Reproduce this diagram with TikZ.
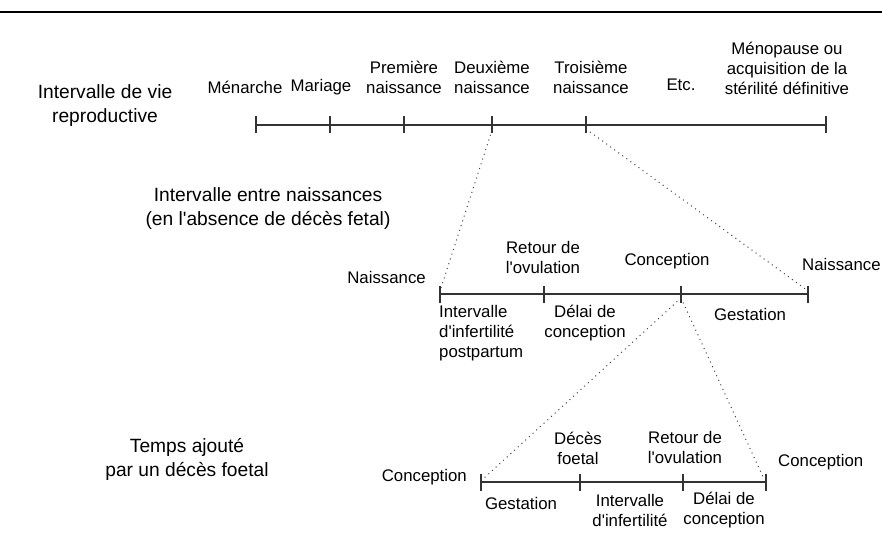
\documentclass[tikz,border=0pt]{standalone}
\usepackage{fontspec}
\setmainfont{Liberation Sans}
\begin{document}
\begin{tikzpicture}
    [x=1pt, y=-1pt,
    lbl/.style={font=\fontsize{16.8}{20}\selectfont, align=center, inner sep=0pt},
    ttl/.style={font=\fontsize{19.2}{24}\selectfont, align=center, inner sep=0pt},
    timeline/.style={line width=1.3pt, draw=black!80},
    tickmark/.style={line width=1.3pt, draw=black!80},
    zoomline/.style={dash pattern=on 1pt off 4pt, line width=1pt, draw=black!75}]
    \useasboundingbox (0,0) rectangle (882,556);
    \draw[line width=2.5pt] (0,12) -- (882,12);
    % vie reproductive
    \node[ttl] (vie) at (105,106) {Intervalle de vie\\reproductive};
    \foreach \n/\x in {a/256, b/330, c/404, d/492, e/586, f/826}
      \coordinate (v\n) at (\x,125);
    \draw[timeline] (va) -- (vf);
    \foreach \n in {a,...,f}
      \draw[tickmark] ([yshift=-8.5pt]v\n) -- ([yshift=8.5pt]v\n);
    \node[lbl] (menarche) at (245,87) {Ménarche};
    \node[lbl] (mariage) at (321,87) {Mariage};
    \node[lbl] (premiere) at (404,77.5) {Première\\naissance};
    \node[lbl] (deuxieme) at (492,77.5) {Deuxième\\naissance};
    \node[lbl] (troisieme) at (591,77.5) {Troisième\\naissance};
    \node[lbl] (etc) at (681,85) {Etc.};
    \node[lbl] (menopause) at (787,68) {Ménopause ou\\acquisition de la\\stérilité définitive};
    % intervalle entre naissances
    \node[ttl] (naiss) at (268,209) {Intervalle entre naissances\\(en l\textquotesingle absence de décès fetal)};
    \foreach \n/\x in {a/440, b/544, c/681, d/808}
      \coordinate (n\n) at (\x,294);
    \draw[timeline] (na) -- (nd);
    \foreach \n in {a,...,d}
      \draw[tickmark] ([yshift=-8.5pt]n\n) -- ([yshift=8.5pt]n\n);
    \node[lbl, anchor=east] (naissg) at (426,277) {Naissance};
    \node[lbl] (retour1) at (543,257) {Retour de\\l\textquotesingle ovulation};
    \node[lbl] (concep1) at (667,261) {Conception};
    \node[lbl, anchor=west] (naissd) at (802,264) {Naissance};
    \node[lbl, align=left, anchor=west] (postpartum) at (439,333) {Intervalle\\d\textquotesingle infertilité\\postpartum};
    \node[lbl] (delai1) at (585,323) {Délai de\\conception};
    \node[lbl] (gest1) at (750,314) {Gestation};
    % deces foetal
    \node[ttl] (foetal) at (187,459) {Temps ajouté\\par un décès foetal};
    \foreach \n/\x in {a/481, b/580, c/683, d/766}
      \coordinate (f\n) at (\x,482);
    \draw[timeline] (fa) -- (fd);
    \foreach \n in {a,...,d}
      \draw[tickmark] ([yshift=-8.5pt]f\n) -- ([yshift=8.5pt]f\n);
    \node[lbl, anchor=east] (concepg) at (467,477) {Conception};
    \node[lbl] (deces) at (578,448) {Décès\\foetal};
    \node[lbl] (retour2) at (685,447) {Retour de\\l\textquotesingle ovulation};
    \node[lbl, anchor=west] (concepd) at (778,462) {Conception};
    \node[lbl] (gest2) at (521,503) {Gestation};
    \node[lbl] (infert) at (630,510) {Intervalle\\d\textquotesingle infertilité};
    \node[lbl] (delai2) at (724,510) {Délai de\\conception};
    % agrandissements
    \draw[zoomline] ([yshift=-5pt]vd) -- ([yshift=3pt]na);
    \draw[zoomline] ([yshift=-4pt]ve) -- ([yshift=3pt]nd);
    \draw[zoomline] ([yshift=-4pt]nc) -- ([xshift=2pt,yshift=3pt]fa);
    \draw[zoomline] ([yshift=-4pt]nc) -- ([xshift=-2pt,yshift=3pt]fd);
\end{tikzpicture}
\end{document}
